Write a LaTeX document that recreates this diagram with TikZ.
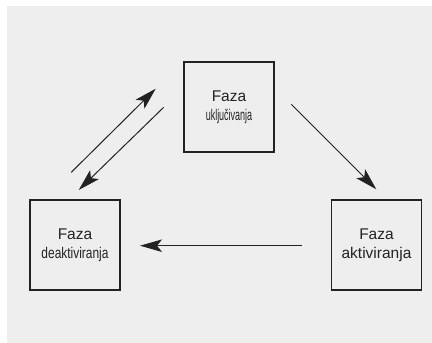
\documentclass[tikz,border=0pt]{standalone}
\usepackage{fontspec}
\setmainfont{Liberation Sans}
\usetikzlibrary{arrows.meta}
\definecolor{bg}{HTML}{EEEEEE}
\definecolor{ink}{HTML}{222222}
\begin{document}
\begin{tikzpicture}[x=1pt,y=-1pt,
  phase/.style={draw=ink,line width=1.1pt,minimum width=90pt,minimum height=90pt,inner sep=0pt,
    align=center,font=\fontsize{15.5}{19}\selectfont,text=ink},
  flow/.style={draw=ink,line width=1pt,-{Stealth[length=22pt,width=12.5pt,inset=5pt]}}]
\useasboundingbox (0,0) rectangle (432,343);
\fill[bg] (7,6) rectangle (432,343);
\node[phase] (top) at (229,107) {Faza\\\scalebox{0.58}[1]{uključivanja}};
\node[phase] (left) at (75,245) {Faza\\\scalebox{0.77}[1]{deaktiviranja}};
\node[phase] (right) at (376.5,245) {Faza\\aktiviranja};
\coordinate (a1) at (71.3,172.3);
\coordinate (a2) at (155.7,88.7);
\coordinate (b1) at (163.7,107.3);
\coordinate (b2) at (78.7,190);
\coordinate (c1) at (291.3,104.3);
\coordinate (c2) at (376.3,189.3);
\coordinate (d1) at (302,245.7);
\coordinate (d2) at (140,245.7);
\draw[flow] (a1) -- (a2);
\draw[flow] (b1) -- (b2);
\draw[flow] (c1) -- (c2);
\draw[flow] (d1) -- (d2);
\end{tikzpicture}
\end{document}
